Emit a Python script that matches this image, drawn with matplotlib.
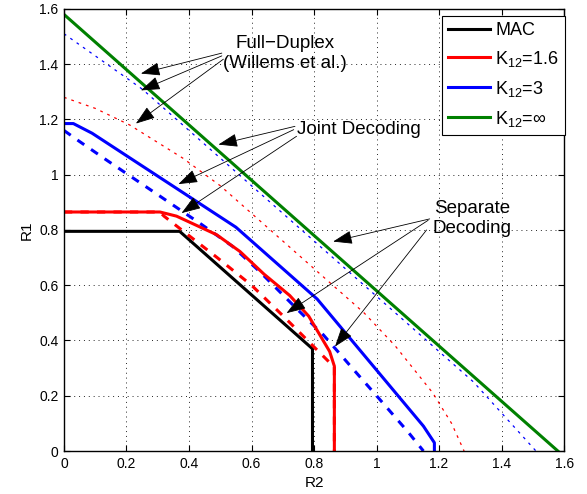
import numpy as np
import matplotlib
matplotlib.use('Agg')
import matplotlib.pyplot as plt

plt.rcParams['font.family'] = ['Liberation Sans', 'DejaVu Sans']
plt.rcParams['mathtext.fontset'] = 'custom'
plt.rcParams['mathtext.rm'] = 'Liberation Sans'
plt.rcParams['mathtext.it'] = 'Liberation Sans'

# MAC region
mac_r2 = [0, 0.37, 0.795, 0.795]
mac_r1 = [0.795, 0.795, 0.37, 0]

# K12 = 1.6, joint decoding (solid) and separate decoding (dashed)
k16_joint_r2 = [0, 0.307, 0.36, 0.488, 0.563, 0.64, 0.722, 0.783, 0.85, 0.865, 0.865]
k16_joint_r1 = [0.865, 0.865, 0.85, 0.783, 0.722, 0.64, 0.563, 0.488, 0.36, 0.307, 0]
k16_sep_r2 = [0, 0.307, 0.32, 0.49, 0.60, 0.70, 0.85, 0.865, 0.865]
k16_sep_r1 = [0.865, 0.865, 0.85, 0.70, 0.60, 0.49, 0.32, 0.307, 0]

# K12 = 3
k3_joint_r2 = [0, 0.03, 0.09, 0.55, 0.81, 1.15, 1.185, 1.185]
k3_joint_r1 = [1.185, 1.185, 1.15, 0.81, 0.55, 0.09, 0.03, 0]
k3_sep_r2 = [0, 0.05, 0.14, 0.31, 0.44, 0.54, 0.63, 0.74, 0.83, 0.93, 1.0, 1.1, 1.15]
k3_sep_r1 = [1.16, 1.12, 1.05, 0.92, 0.82, 0.74, 0.645, 0.52, 0.42, 0.29, 0.20, 0.07, 0]

# full-duplex (Willems et al.)
fd16_r2 = [0, 0.1, 0.21, 0.38, 0.5, 0.6, 0.73, 0.86, 0.96, 1.06, 1.18, 1.24, 1.28]
fd16_r1 = [1.28, 1.24, 1.18, 1.06, 0.96, 0.86, 0.73, 0.6, 0.5, 0.38, 0.21, 0.1, 0]
fd3_r2 = [0, 0.25, 0.5, 0.78, 1.06, 1.31, 1.51]
fd3_r1 = [1.51, 1.31, 1.06, 0.78, 0.5, 0.25, 0]

# K12 = inf
inf_r2 = [0, 1.58]
inf_r1 = [1.58, 0]

ticks = [0, 0.2, 0.4, 0.6, 0.8, 1, 1.2, 1.4, 1.6]
tick_labels = ['0', '0.2', '0.4', '0.6', '0.8', '1', '1.2', '1.4', '1.6']

red = '#ff0000'
blue = '#0000ff'
green = '#008000'

fig = plt.figure(figsize=(5.87, 4.94), dpi=100)
ax = fig.add_axes([0.109, 0.087, 0.852, 0.895])

lw = 2.2
dash = (2.7, 2.7)
dot = (2.2, 4.0)

ax.plot(fd16_r2, fd16_r1, color=red, lw=0.9, dashes=dot)
ax.plot(fd3_r2, fd3_r1, color=blue, lw=0.9, dashes=dot)

ax.plot(mac_r2, mac_r1, color='k', lw=lw, label='MAC')
ax.plot(k16_sep_r2, k16_sep_r1, color=red, lw=lw, dashes=dash)
ax.plot(k3_sep_r2, k3_sep_r1, color=blue, lw=lw, dashes=dash)
ax.plot(k16_joint_r2, k16_joint_r1, color=red, lw=lw, label='K$_{12}$=1.6')
ax.plot(k3_joint_r2, k3_joint_r1, color=blue, lw=lw, label='K$_{12}$=3')
ax.plot(inf_r2, inf_r1, color=green, lw=lw, label='K$_{12}$=$\\infty$')

ax.set_xlim(0, 1.6)
ax.set_ylim(0, 1.6)
ax.set_xticks(ticks)
ax.set_yticks(ticks)
ax.set_xticklabels(tick_labels)
ax.set_yticklabels(tick_labels)
ax.tick_params(direction='in', top=True, right=True, length=4, width=0.8, labelsize=10, pad=4)
ax.grid(True, color='k', linestyle=(0, (1, 4)), lw=0.7, alpha=0.85)
for s in ax.spines.values():
    s.set_linewidth(1.0)

ax.set_xlabel('R2', fontsize=11, labelpad=4)
ax.set_ylabel('R1', fontsize=11, labelpad=4)

leg = ax.legend(loc='upper right', bbox_to_anchor=(1.002, 0.985), borderaxespad=0,
                fancybox=False, edgecolor='k', fontsize=13, handlelength=2.3,
                handletextpad=0.3, labelspacing=0.55, borderpad=0.35, framealpha=1)
leg.get_frame().set_linewidth(0.8)

arrow = dict(arrowstyle='-|>,head_length=1.2,head_width=0.42', color='k', lw=0.6,
             shrinkA=0, shrinkB=0, mutation_scale=10)

# Full-Duplex annotation
ax.text(0.707, 1.438, 'Full\u2212Duplex\n(Willems et al.)', fontsize=13.5,
        ha='center', va='center', linespacing=1.2)
fd_tails = [(0.505, 1.44), (0.505, 1.43), (0.51, 1.418)]
fd_heads = [(0.246, 1.366), (0.246, 1.305), (0.230, 1.185)]
for t, h in zip(fd_tails, fd_heads):
    ax.annotate('', xy=h, xytext=t, arrowprops=arrow)

# Joint Decoding annotation
ax.text(0.745, 1.165, 'Joint Decoding', fontsize=13.5, ha='left', va='center')
jd_tails = [(0.739, 1.175), (0.735, 1.163), (0.744, 1.139)]
jd_heads = [(0.494, 1.109), (0.366, 0.966), (0.376, 0.861)]
for t, h in zip(jd_tails, jd_heads):
    ax.annotate('', xy=h, xytext=t, arrowprops=arrow)

# Separate Decoding annotation
ax.text(1.305, 0.841, 'Separate\nDecoding', fontsize=13.5, ha='center', va='center',
        linespacing=1.2)
sd_tails = [(1.17, 0.84), (1.165, 0.835), (1.16, 0.80)]
sd_heads = [(0.861, 0.758), (0.712, 0.499), (0.867, 0.378)]
for t, h in zip(sd_tails, sd_heads):
    ax.annotate('', xy=h, xytext=t, arrowprops=arrow)

fig.savefig('out.png', dpi=100)
